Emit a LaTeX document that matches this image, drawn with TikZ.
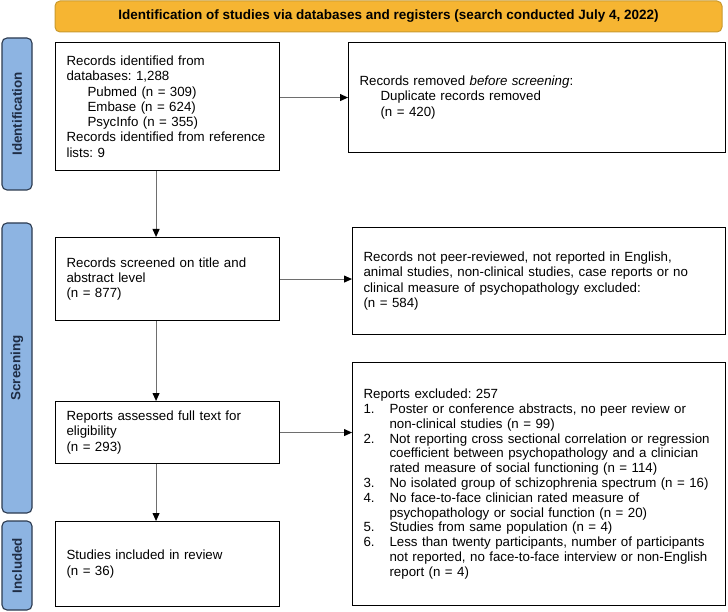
\documentclass[tikz,border=0pt]{standalone}
\usepackage{fontspec}
\setmainfont{Liberation Sans}
\usetikzlibrary{arrows.meta}
\frenchspacing
\definecolor{headfill}{HTML}{F6B532}
\definecolor{headdraw}{HTML}{C99A2E}
\definecolor{sidefill}{HTML}{8DB4E2}
\definecolor{sidedraw}{HTML}{2B3A4F}
\definecolor{sidetext}{HTML}{1F2D45}
\definecolor{arrowgray}{HTML}{6E6E6E}
\newcommand{\boxfont}{\fontsize{13.3}{15.3}\selectfont\hyphenpenalty=10000\exhyphenpenalty=10000}
\newcommand{\numitem}[1]{\makebox[26pt][l]{#1}}
\newcommand{\contd}{\hspace*{26pt}}
\newcommand{\subline}{\hspace*{21pt}}
\tikzset{
  box/.style={draw, line width=1.1pt, anchor=north west, inner xsep=11pt, inner ysep=0pt, align=left, font=\boxfont},
  side/.style={draw=sidedraw, fill=sidefill, line width=1.1pt, rounded corners=5pt, minimum height=30pt, inner sep=0pt, rotate=90, text=sidetext, font=\fontsize{13.4}{15}\selectfont\bfseries},
  flow/.style={draw=arrowgray, line width=1pt, -{Triangle[length=8pt,width=7pt,color=black]}}
}
\begin{document}
\begin{tikzpicture}[x=1pt,y=-1pt]
\useasboundingbox (0,0) rectangle (728,612);
\node[draw=headdraw, fill=headfill, line width=1pt, rounded corners=5pt, minimum width=667pt, minimum height=31pt, font=\fontsize{13.5}{15}\selectfont\bfseries] (head) at (388.5,16.5) {Identification of studies via databases and registers (search conducted July 4, 2022)}; % Header
\node[side, minimum width=152pt] (ident) at (17,114) {Identification};
\node[side, minimum width=290pt] (screen) at (17,368) {Screening};
\node[side, minimum width=89pt] (incl) at (17,565.5) {Included};
% Left column
\node[box, text width=202pt, minimum height=128pt] (found) at (55,42) {Records identified from\\databases: 1,288\\\subline Pubmed (n = 309)\\\subline Embase (n = 624)\\\subline PsycInfo (n = 355)\\Records identified from reference\\lists: 9};
\node[box, text width=202pt, minimum height=83pt] (screened) at (55,237) {Records screened on title and\\abstract level\\(n = 877)};
\node[box, text width=202pt, minimum height=62pt] (assessed) at (55,401) {Reports assessed full text for\\eligibility\\(n = 293)};
\node[box, text width=202pt, minimum height=85pt] (included) at (55,521) {Studies included in review\\(n = 36)};
% Right column
\node[box, text width=355pt, minimum height=110pt] (dupl) at (348,42) {Records removed \textit{before screening}:\\\subline Duplicate records removed\\\subline (n = 420)};
\node[box, text width=351pt, minimum height=107pt] (notpeer) at (352,227) {Records not peer-reviewed, not reported in English,\\animal studies, non-clinical studies, case reports or no\\clinical measure of psychopathology excluded:\\(n = 584)};
\node[box, text width=351pt, minimum height=243pt, font=\boxfont\fontsize{13.3}{14.8}\selectfont] (excl) at (352,362) {Reports excluded: 257\\
\numitem{1.}Poster or conference abstracts, no peer review or\\\contd non-clinical studies (n = 99)\\
\numitem{2.}Not reporting cross sectional correlation or regression\\\contd coefficient between psychopathology and a clinician\\\contd rated measure of social functioning (n = 114)\\
\numitem{3.}No isolated group of schizophrenia spectrum (n = 16)\\
\numitem{4.}No face-to-face clinician rated measure of\\\contd psychopathology or social function (n = 20)\\
\numitem{5.}Studies from same population (n = 4)\\
\numitem{6.}Less than twenty participants, number of participants\\\contd not reported, no face-to-face interview or non-English\\\contd report (n = 4)};
% Arrows
\draw[flow] ([xshift=-11.5pt]found.south) -- ([xshift=-11.5pt]screened.north);
\draw[flow] ([xshift=-11.5pt]screened.south) -- ([xshift=-11.5pt]assessed.north);
\draw[flow] ([xshift=-11.5pt]assessed.south) -- ([xshift=-11.5pt]included.north);
\draw[flow] (found.east |- dupl.west) -- (dupl.west);
\draw[flow] (screened.east) -- (screened.east -| notpeer.west);
\draw[flow] (assessed.east) -- (assessed.east -| excl.west);
\end{tikzpicture}
\end{document}
